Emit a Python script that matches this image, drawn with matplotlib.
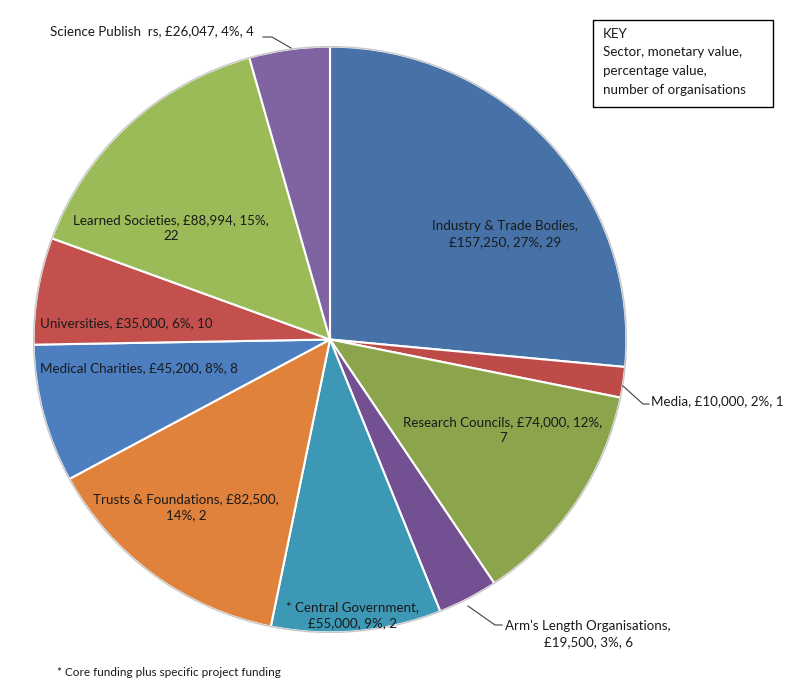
import matplotlib
matplotlib.use("Agg")
import matplotlib.pyplot as plt

sectors = ["Industry & Trade Bodies", "Media", "Research Councils",
           "Arm's Length Organisations", "* Central Government",
           "Trusts & Foundations", "Medical Charities", "Universities",
           "Learned Societies", "Science Publish  rs"]
values = [157250, 10000, 74000, 19500, 55000, 82500, 45200, 35000, 88994, 26047]
percents = [27, 2, 12, 3, 9, 14, 8, 6, 15, 4]
orgs = [29, 1, 7, 6, 2, 2, 8, 10, 22, 4]
colors = ["#4672a8", "#be4b48", "#8ca54c", "#735092", "#3d98b5",
          "#e0823c", "#4c7ec0", "#c3504d", "#9bbb59", "#8064a2"]

labels_text = [
    "Industry & Trade Bodies,\n£157,250, 27%, 29",
    "Media, £10,000, 2%, 1",
    "Research Councils, £74,000, 12%,\n7",
    "Arm's Length Organisations,\n£19,500, 3%, 6",
    "* Central Government,\n£55,000, 9%, 2",
    "Trusts & Foundations, £82,500,\n14%, 2",
    "Medical Charities, £45,200, 8%, 8",
    "Universities, £35,000, 6%, 10",
    "Learned Societies, £88,994, 15%,\n22",
    "Science Publish  rs, £26,047, 4%, 4",
]
# label anchor positions in figure pixels (x, y from top), alignment
label_pos = [(505, 234, "center"), (651, 401, "left"), (503, 430, "center"),
             (588, 634, "center"), (352, 615, "center"), (186, 507, "center"),
             (40, 368, "left"), (40, 323, "left"), (171, 228, "center"),
             (50, 31, "left")]

W, H = 800, 692
fig = plt.figure(figsize=(W / 100, H / 100), dpi=100)
fig.patch.set_facecolor("white")
ax = fig.add_axes([33 / W, (H - 633) / H, 594 / W, 587 / H])
ax.pie(values, colors=colors, startangle=90, counterclock=False,
       wedgeprops=dict(edgecolor="white", linewidth=1.5))
ax.add_patch(matplotlib.patches.Ellipse((0, 0), 2.0, 2.0, fill=False,
                                        edgecolor="#c8c8c8", linewidth=1.0))
ax.set_aspect("auto")
ax.set_xlim(-1.002, 1.002)
ax.set_ylim(-1.002, 1.002)
ax.axis("off")

font = dict(family=["Lato", "DejaVu Sans"], fontsize=9.6, color="#1a1a1a")
for txt, (px, py, ha) in zip(labels_text, label_pos):
    fig.text(px / W, 1 - py / H, txt, ha=ha, va="center",
             multialignment="center", linespacing=1.35, **font)

# leader lines (figure pixels)
leaders = [
    [(263, 37), (272, 37), (291, 48)],
    [(623, 386), (643, 404), (649, 404)],
    [(468, 606), (495, 625), (502, 625)],
]
for pts in leaders:
    xs = [p[0] / W for p in pts]
    ys = [1 - p[1] / H for p in pts]
    fig.add_artist(plt.Line2D(xs, ys, color="#404040", linewidth=0.8))

# key box
fig.add_artist(plt.Rectangle((593 / W, 1 - 107 / H), 180 / W, 87 / H,
                             fill=True, facecolor="white", edgecolor="black",
                             linewidth=1.0))
key_lines = ["KEY", "Sector, monetary value,", "percentage value,",
             "number of organisations"]
for i, line in enumerate(key_lines):
    fig.text(603 / W, 1 - (34 + i * 18.5) / H, line, ha="left", va="center", **font)

fig.text(57 / W, 1 - 672 / H, "* Core funding plus specific project funding",
         ha="left", va="center", family=["Lato", "DejaVu Sans"], fontsize=8.5,
         color="#1a1a1a")

fig.savefig("out.png", dpi=100, facecolor="white")
